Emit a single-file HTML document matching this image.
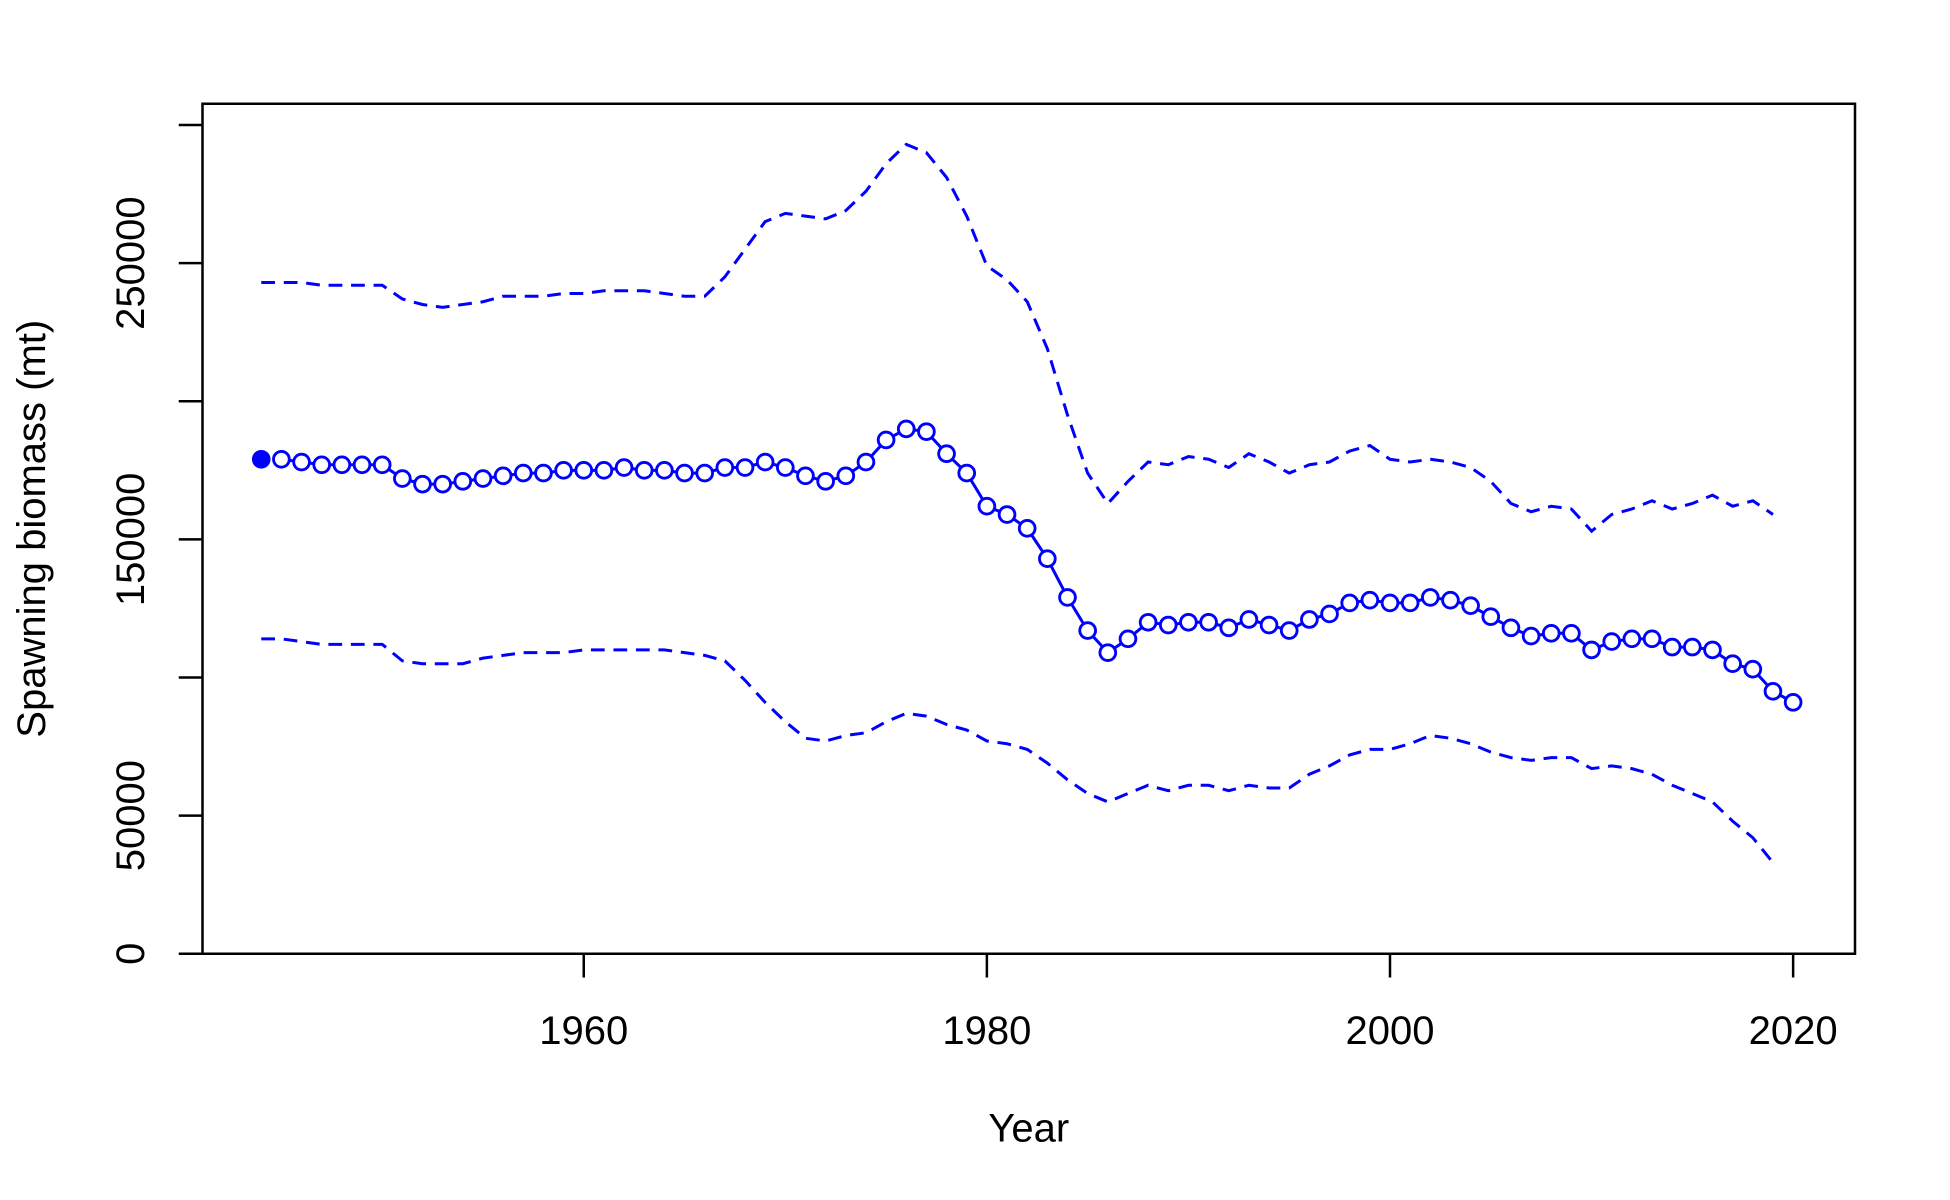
<!DOCTYPE html>
<html><head><meta charset="utf-8"><style>html,body{margin:0;padding:0;background:#fff}svg{display:block}text{font-family:"Liberation Sans",Arial,sans-serif;fill:#000}</style></head>
<body>
<svg id="chart" width="1950" height="1200" viewBox="0 0 1560 960" xmlns="http://www.w3.org/2000/svg">
<rect x="162" y="83" width="1322" height="680" fill="none" stroke="#000" stroke-width="2"/>
<g id="axes"></g>
<g id="series"></g>
<text x="823" y="913" text-anchor="middle" font-size="32">Year</text>
<text transform="translate(36,423) rotate(-90)" text-anchor="middle" font-size="32">Spawning biomass (mt)</text>
</svg>
<script>
const startYear = 1944;
const median = [179,179,178,177,177,177,177,172,170,170,171,172,173,174,174,175,175,175,176,175,175,174,174,176,176,178,176,173,171,173,178,186,190,189,181,174,162,159,154,143,129,117,109,114,120,119,120,120,118,121,119,117,121,123,127,128,127,127,129,128,126,122,118,115,116,116,110,113,114,114,111,111,110,105,103,95,91];
const upper = [243,243,243,242,242,242,242,237,235,234,235,236,238,238,238,239,239,240,240,240,239,238,238,245,255,265,268,267,266,269,276,286,293,290,281,267,249,244,236,219,195,174,163,171,178,177,180,179,176,181,178,174,177,178,182,184,179,178,179,178,176,171,163,160,162,161,153,159,161,164,161,163,166,162,164,159];
const lower = [114,114,113,112,112,112,112,106,105,105,105,107,108,109,109,109,110,110,110,110,110,109,108,106,99,91,84,78,77,79,80,84,87,86,83,81,77,76,74,69,63,58,55,58,61,59,61,61,59,61,60,60,65,68,72,74,74,76,79,78,76,73,71,70,71,71,67,68,67,65,61,58,55,48,42,33];
const xTicks = [1960,1980,2000,2020];
const yTicks = [0,50000,100000,150000,200000,250000,300000];
const yLabels = ["0","50000","","150000","","250000",""];
const NS="http://www.w3.org/2000/svg";
const X = yr => 467 + (yr-1960)*(322.5/20);
const Y = v => 763 - v*1000*(221/100000);
function mk(tag, attrs, parent){const e=document.createElementNS(NS,tag);for(const k in attrs)e.setAttribute(k,attrs[k]);parent.appendChild(e);return e;}
const axes=document.getElementById('axes'), ser=document.getElementById('series');
xTicks.forEach(t=>{
  const l=mk('line',{x1:X(t),x2:X(t),y1:763,y2:782,stroke:'#000','stroke-width':2},axes);
  
  
  const tx=mk('text',{x:X(t),y:835,'text-anchor':'middle','font-size':32},axes);tx.textContent=t;
  
  
});
yTicks.forEach((t,i)=>{
  const yy=Y(t/1000);
  const l=mk('line',{x1:143,x2:162,y1:yy,y2:yy,stroke:'#000','stroke-width':2},axes);
  
  
  if(yLabels[i]){
    const tx=mk('text',{transform:`translate(115,${yy}) rotate(-90)`,'text-anchor':'middle','font-size':32},axes);tx.textContent=yLabels[i];
    
    
  }
});
function pts(arr,off){return arr.map((v,i)=>X(startYear+off+i).toFixed(1)+','+Y(v).toFixed(1)).join(' ');}
const up=mk('polyline',{points:pts(upper,0),fill:'none',stroke:'#0000ff','stroke-width':2.4,'stroke-dasharray':'11,7'},ser);


const lo=mk('polyline',{points:pts(lower,0),fill:'none',stroke:'#0000ff','stroke-width':2.4,'stroke-dasharray':'11,7'},ser);


const md=mk('polyline',{points:pts(median.slice(1),1),fill:'none',stroke:'#0000ff','stroke-width':2.4},ser);


median.forEach((v,i)=>{
  const c=mk('circle',{cx:X(startYear+i),cy:Y(v),r:6.3,fill:i===0?'#0000ff':'#fff',stroke:'#0000ff','stroke-width':2.3},ser);
  
  
});
</script>
</body></html>
